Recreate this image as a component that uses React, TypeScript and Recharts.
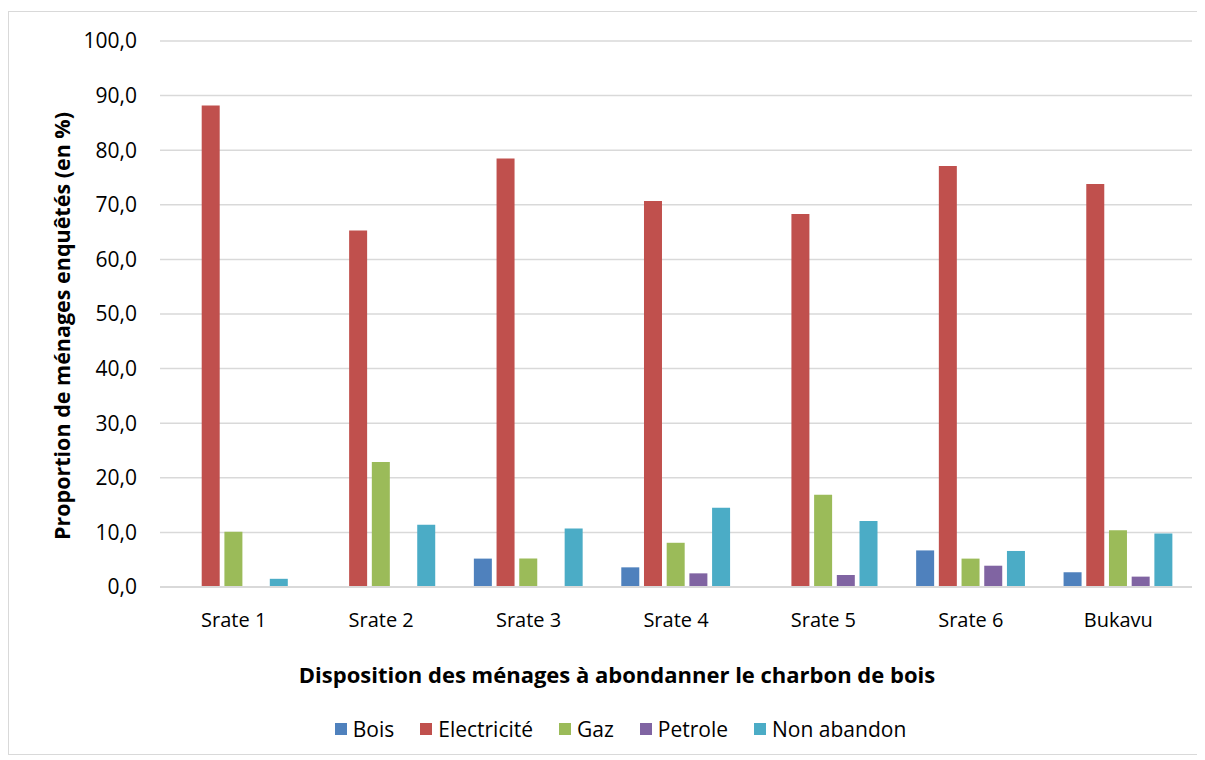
import React from 'react';
import { BarChart, Bar, XAxis, YAxis, CartesianGrid, Legend } from 'recharts';

const categories = ['Srate 1', 'Srate 2', 'Srate 3', 'Srate 4', 'Srate 5', 'Srate 6', 'Bukavu'];
const bois = [0, 0, 5.2, 3.6, 0, 6.7, 2.7];
const electricite = [88.2, 65.3, 78.5, 70.7, 68.3, 77.1, 73.8];
const gaz = [10.1, 22.9, 5.2, 8.1, 16.9, 5.2, 10.4];
const petrole = [0, 0, 0, 2.5, 2.2, 3.9, 1.9];
const nonAbandon = [1.5, 11.4, 10.7, 14.5, 12.1, 6.6, 9.8];
const yTicks = [0, 10, 20, 30, 40, 50, 60, 70, 80, 90, 100];

const series = [
  { key: 'Bois', color: '#4F81BD' },
  { key: 'Electricité', color: '#C0504D' },
  { key: 'Gaz', color: '#9BBB59' },
  { key: 'Petrole', color: '#8064A2' },
  { key: 'Non abandon', color: '#4BACC6' },
];

const data = categories.map((name, i) => ({
  name,
  Bois: bois[i],
  'Electricité': electricite[i],
  Gaz: gaz[i],
  Petrole: petrole[i],
  'Non abandon': nonAbandon[i],
}));

const font = '"Open Sans", "Noto Sans", sans-serif';

const LegendBox = () => (
  <div
    style={{
      display: 'flex',
      justifyContent: 'center',
      alignItems: 'center',
      height: 50,
      paddingLeft: 66,
      fontFamily: font,
      fontSize: 21,
      color: '#000',
    }}
  >
    {series.map(({ key, color }) => (
      <div key={key} style={{ display: 'flex', alignItems: 'center', marginRight: 26 }}>
        <span style={{ width: 12, height: 12, background: color, marginRight: 6, display: 'inline-block' }} />
        <span>{key}</span>
      </div>
    ))}
  </div>
);

const App = () => (
  <div
    style={{
      width: 1190,
      height: 742,
      marginTop: 3,
      border: '1px solid #d9d9d9',
      background: '#fff',
    }}
  >
    <BarChart
      width={1190}
      height={742}
      data={data}
      margin={{ top: 29, right: 7, left: 0, bottom: 0 }}
      barSize={18}
      barGap={4.7}
    >
      <CartesianGrid vertical={false} stroke="#d9d9d9" strokeWidth={1.5} />
      <XAxis
        dataKey="name"
        tickLine={false}
        tickSize={0}
        tickMargin={26}
        axisLine={{ stroke: '#d9d9d9', strokeWidth: 2 }}
        height={117}
        tick={{ fill: '#000', fontSize: 20, fontFamily: font }}
        label={{
          value: 'Disposition des ménages à abondanner le charbon de bois',
          position: 'insideBottom',
          offset: 21,
          dx: -59,
          fill: '#000',
          fontSize: 22,
          fontWeight: 'bold',
          fontFamily: font,
        }}
      />
      <YAxis
        domain={[0, 100]}
        ticks={yTicks}
        width={151}
        tickLine={false}
        tickSize={0}
        tickMargin={23}
        axisLine={false}
        tickFormatter={(v) => v.toFixed(1).replace('.', ',')}
        tick={{ fill: '#000', fontSize: 21, fontFamily: font }}
        label={{
          value: 'Proportion de ménages enquêtés (en %)',
          angle: -90,
          position: 'center',
          dx: -22,
          dy: 12,
          fill: '#000',
          fontSize: 21.5,
          fontWeight: 'bold',
          fontFamily: font,
        }}
      />
      <Legend verticalAlign="bottom" content={<LegendBox />} />
      {series.map(({ key, color }) => (
        <Bar key={key} dataKey={key} fill={color} isAnimationActive={false} />
      ))}
    </BarChart>
  </div>
);

export default App;
